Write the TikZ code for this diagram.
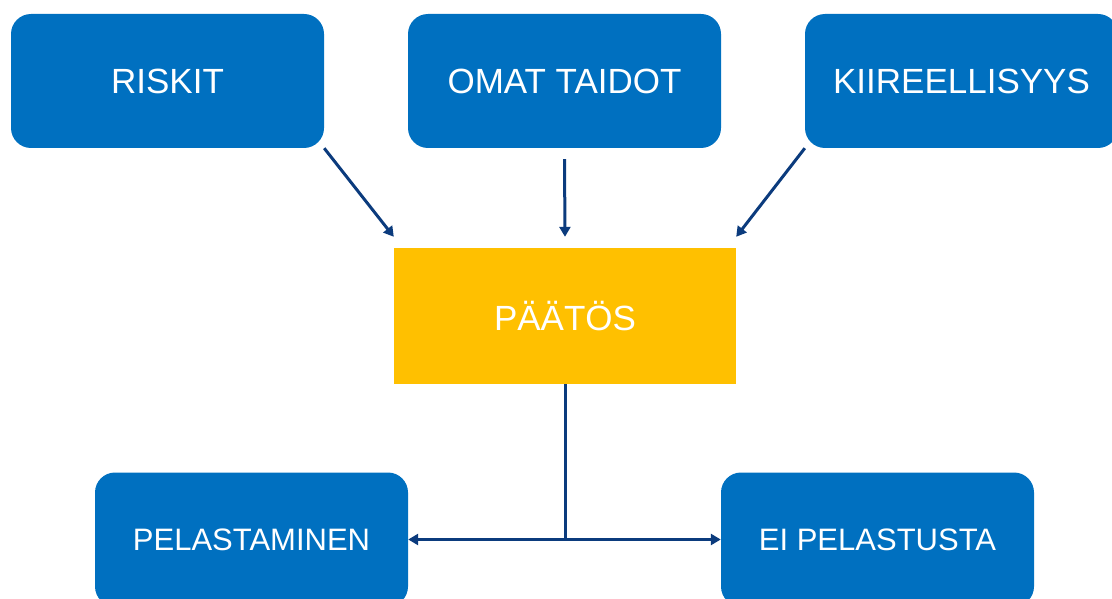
\documentclass[tikz,border=0pt]{standalone}
\usepackage{fontspec}
\setmainfont{Liberation Sans}
\usetikzlibrary{arrows.meta}
\definecolor{boxblue}{HTML}{0070C0}
\definecolor{boxyellow}{HTML}{FFC000}
\definecolor{arrowblue}{HTML}{0B3B7D}
\begin{document}
\begin{tikzpicture}[x=1pt,y=-1pt,
  bluebox/.style={rectangle, rounded corners=20pt, fill=boxblue, text=white,
    minimum width=313pt, minimum height=134pt, inner sep=0pt,
    font=\fontsize{35}{42}\selectfont},
  smallbluebox/.style={bluebox, font=\fontsize{31}{38}\selectfont},
  decisionbox/.style={rectangle, fill=boxyellow, text=white,
    minimum width=342pt, minimum height=136pt, inner sep=0pt,
    font=\fontsize{35}{42}\selectfont},
  conn/.style={draw=arrowblue, line width=3pt},
  arr/.style={conn, -{Triangle[length=10pt,width=11pt]}}
]
\useasboundingbox (0,0) rectangle (1112,599);
\clip (0,0) rectangle (1112,599);
\node[bluebox] (riskit) at (167.5,81) {RISKIT};
\node[bluebox] (omat) at (564.5,81) {OMAT TAIDOT};
\node[bluebox] (kiire) at (961.5,81) {KIIREELLISYYS};
\node[decisionbox] (paatos) at (565,316) {PÄÄTÖS};
\node[smallbluebox] (pelast) at (251.5,539.5) {PELASTAMINEN};
\node[smallbluebox] (ei) at (877.5,539.5) {EI PELASTUSTA};
\coordinate (j) at (paatos.south |- pelast.east);
\draw[arr] (riskit.south east) -- ([yshift=11pt]paatos.north west);
\draw[arr] ([yshift=-11pt]omat.south) -- ([yshift=11pt]paatos.north);
\draw[arr] (kiire.south west) -- ([yshift=11pt]paatos.north east);
\draw[conn] (paatos.south) -- (j);
\draw[arr] (j) -- (pelast.east);
\draw[arr] (j) -- (ei.west);
\end{tikzpicture}
\end{document}
